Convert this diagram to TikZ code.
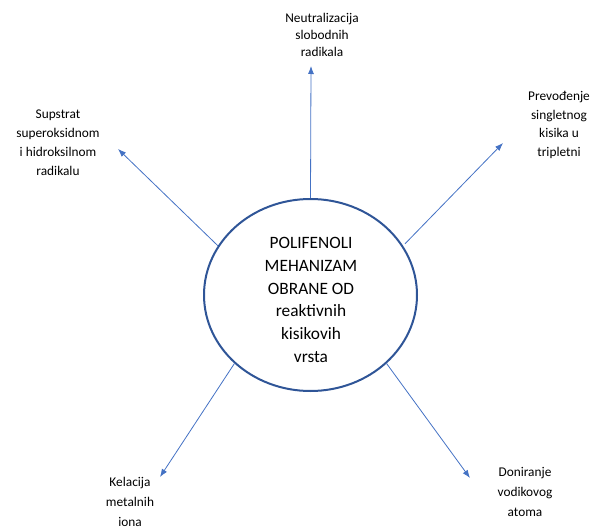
\documentclass[tikz,border=0pt]{standalone}
\usepackage{fontspec}
\setmainfont{Carlito}
\usetikzlibrary{arrows.meta,shapes.geometric}
\definecolor{arrowblue}{HTML}{4472C4}
\definecolor{ringblue}{HTML}{2F5597}
\begin{document}
\begin{tikzpicture}[x=0.75pt,y=-0.75pt,
 lbl/.style={font=\fontsize{10}{15}\selectfont, align=center, inner sep=0pt, text=black},
 conn/.style={draw=arrowblue, line width=0.6pt, -{Latex[length=6pt,width=4.5pt]}},
 ring/.style={ellipse, draw=ringblue, line width=1.5pt, minimum width=159.75pt, minimum height=144pt, inner sep=0pt}]
\useasboundingbox (0,0) rectangle (593,528);
\node[ring] (c) at (310.5,295) {};
\node[font=\fontsize{13}{17}\selectfont, align=center, inner sep=0pt] (t) at (311,300) {POLIFENOLI\\MEHANIZAM\\OBRANE OD\\reaktivnih\\kisikovih\\vrsta};
% labels
\node[lbl, font=\fontsize{10}{12.75}\selectfont] (n) at (322,35) {Neutralizacija\\slobodnih\\radikala};
\node[lbl, font=\fontsize{10}{14.3}\selectfont] (nw) at (58,143) {Supstrat\\superoksidnom\\i hidroksilnom\\radikalu};
\node[lbl, font=\fontsize{10}{14}\selectfont] (ne) at (559,125) {Prevođenje\\singletnog\\kisika u\\tripletni};
\node[lbl] (sw) at (130,502) {Kelacija\\metalnih\\iona};
\node[lbl] (se) at (525,492) {Doniranje\\vodikovog\\atoma};
% arrow tips
\coordinate (tn) at (311,66);
\coordinate (tnw) at (118,149);
\coordinate (tne) at (503,143);
\coordinate (tsw) at (160,477);
\coordinate (tse) at (470,478);
% connectors
\draw[conn] (c.north) -- (tn);
\draw[conn] (c.152) -- (tnw);
\draw[conn, shorten <=2pt] (c.28) -- (tne);
\draw[conn] (c.222) -- (tsw);
\draw[conn] (c.318) -- (tse);
\end{tikzpicture}
\end{document}
